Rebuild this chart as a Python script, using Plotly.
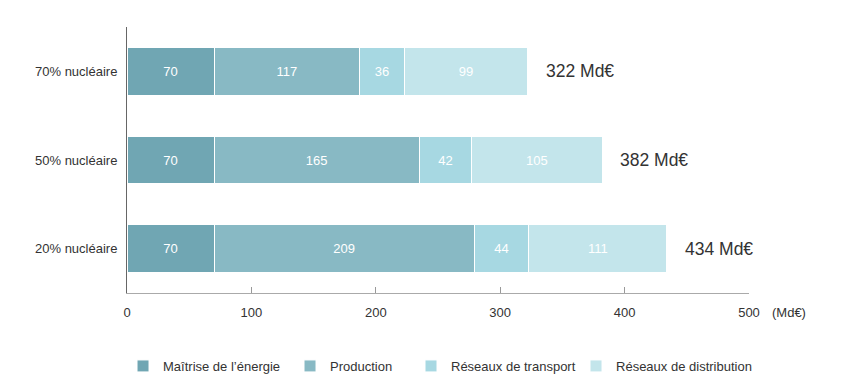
import plotly.graph_objects as go

scenarios = ["70% nucléaire", "50% nucléaire", "20% nucléaire"]
series_names = ["Maîtrise de l’énergie", "Production", "Réseaux de transport", "Réseaux de distribution"]
maitrise = [70, 70, 70]
production = [117, 165, 209]
transport = [36, 42, 44]
distribution = [99, 105, 111]
totals = [322, 382, 434]
total_labels = ["322 Md€", "382 Md€", "434 Md€"]
x_ticks = [0, 100, 200, 300, 400, 500]
unit_label = "(Md€)"

FONT = "Liberation Sans"
colors = ["#70a6b3", "#88b9c4", "#a7d8e2", "#c3e5eb"]
values = [maitrise, production, transport, distribution]
legend_ids = ["legend", "legend2", "legend3", "legend4"]
legend_x = [-0.0064, 0.2621, 0.4566, 0.7219]

fig = go.Figure()
for name, vals, col, lid in zip(series_names, values, colors, legend_ids):
    fig.add_trace(go.Bar(
        y=scenarios, x=vals, name=name, orientation="h", legend=lid,
        marker=dict(color=col, line=dict(color="#ffffff", width=1)),
        text=[str(v) for v in vals], textposition="inside",
        insidetextanchor="middle",
        textfont=dict(color="#ffffff", size=13, family=FONT),
        hoverinfo="x+name",
    ))

for s, t, lab in zip(scenarios, totals, total_labels):
    fig.add_annotation(x=t, y=s, text=lab, showarrow=False, xanchor="left",
                       xshift=16, font=dict(size=17.5, color="#333333", family=FONT))

fig.add_annotation(x=x_ticks[-1], y=0, yref="paper", text=unit_label, showarrow=False,
                   xanchor="left", yanchor="top", xshift=21, yshift=-10,
                   font=dict(size=13, color="#333333", family=FONT))

legend_common = dict(orientation="h", yref="container", y=0.0653, yanchor="middle",
                     xanchor="left", font=dict(size=13, color="#333333", family=FONT),
                     itemwidth=30, bgcolor="rgba(0,0,0,0)")

fig.update_layout(
    barmode="stack",
    bargap=0.46,
    width=835, height=383,
    margin=dict(l=119, r=94, t=19, b=98),
    plot_bgcolor="#ffffff", paper_bgcolor="#ffffff",
    font=dict(family=FONT, size=13, color="#333333"),
    xaxis=dict(range=[0, 500], tickvals=x_ticks, ticks="inside", ticklen=6,
               tickcolor="#999999", showline=True, linecolor="#aaaaaa", linewidth=1,
               showgrid=False, zeroline=False, ticklabelstandoff=7,
               tickfont=dict(size=13, color="#333333", family=FONT)),
    yaxis=dict(categoryorder="array", categoryarray=scenarios[::-1],
               showline=True, linecolor="#666666", linewidth=1, showgrid=False,
               ticks="", ticklabelstandoff=6, tickfont=dict(size=13, color="#333333", family=FONT)),
    showlegend=True,
)
for lid, lx in zip(legend_ids, legend_x):
    fig.update_layout({lid: dict(legend_common, x=lx)})

fig.write_html("out.html")
